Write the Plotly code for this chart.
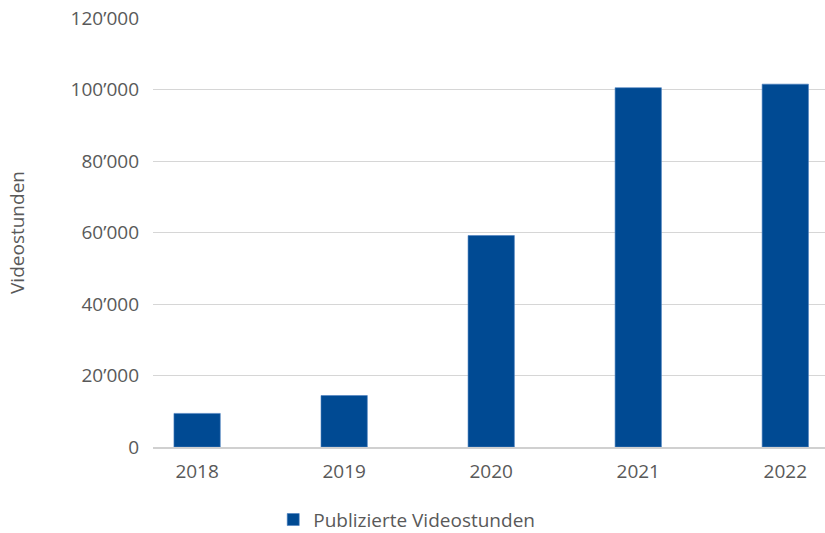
import plotly.graph_objects as go

years = ["2018", "2019", "2020", "2021", "2022"]
hours = [9400, 14400, 59150, 100500, 101500]
y_ticks = [0, 20000, 40000, 60000, 80000, 100000, 120000]
y_tick_labels = ["0", "20’000", "40’000", "60’000", "80’000", "100’000", "120’000"]

font_fam = "Open Sans, Noto Sans, sans-serif"
gray = "#595959"

fig = go.Figure()
fig.add_trace(go.Bar(
    x=list(range(len(years))), y=hours, name="Publizierte Videostunden",
    marker=dict(color="#004a93", line=dict(color="#4a7fc0", width=0.6)),
    width=0.315,
))
fig.update_layout(
    width=825, height=533,
    margin=dict(l=153, r=0, t=18, b=86, autoexpand=False),
    plot_bgcolor="white", paper_bgcolor="white",
    font=dict(family=font_fam, color=gray, size=19),
    showlegend=True,
    legend=dict(orientation="h", x=0.493, xref="container", xanchor="center",
                y=0.025, yref="container", yanchor="middle",
                font=dict(size=19, color=gray), itemwidth=30),
    xaxis=dict(
        tickmode="array", tickvals=list(range(len(years))), ticktext=years,
        range=[-0.3, 4.27], showgrid=False, zeroline=False,
        showline=True, linecolor="#d0d0d0", linewidth=2,
        ticks="", ticklabelstandoff=6, tickfont=dict(size=19, color=gray),
    ),
    yaxis=dict(
        tickmode="array", tickvals=y_ticks, ticktext=y_tick_labels,
        range=[0, 120000], showgrid=True, gridcolor="#d6d6d6", gridwidth=1,
        zeroline=False, ticks="",
        ticklabelstandoff=13, tickfont=dict(size=19, color=gray),
        title=dict(text="Videostunden", font=dict(size=19, color=gray), standoff=40),
    ),
)
fig.write_html("out.html")
